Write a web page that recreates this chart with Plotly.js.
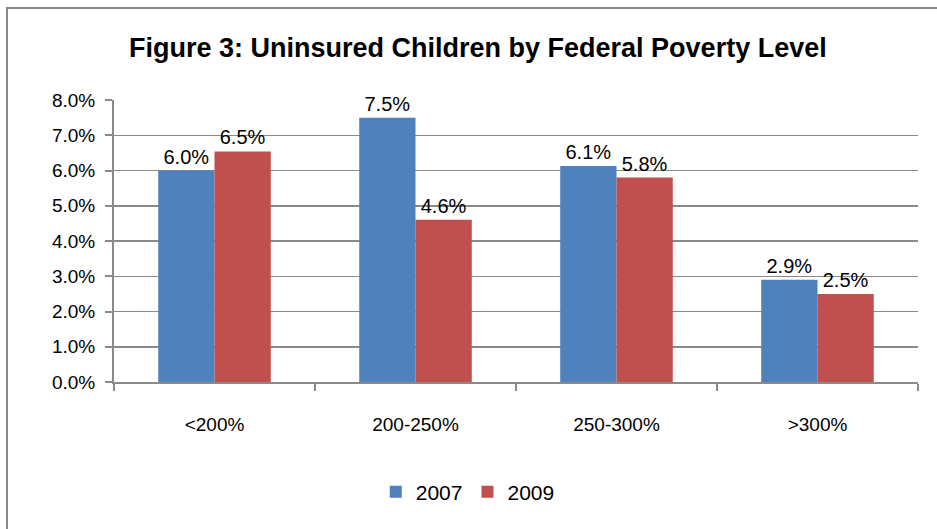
<!DOCTYPE html>
<html>
<head>
<meta charset="utf-8">
<script src="https://cdn.plot.ly/plotly-3.0.1.min.js"></script>
<style>
html,body{margin:0;padding:0;background:#fff;}
#wrap{position:relative;width:937px;height:529px;overflow:hidden;}
#frame{position:absolute;left:6px;top:7px;width:1000px;height:600px;border-top:2px solid #8a8a8a;border-left:2px solid #8a8a8a;}
#chart{position:absolute;left:0;top:0;width:937px;height:529px;}
</style>
</head>
<body>
<div id="wrap"><div id="frame"></div><div id="chart"></div></div>
<script>
var categories = ['<200%', '200-250%', '250-300%', '>300%'];
var series2007 = [6.0, 7.5, 6.13, 2.9];
var series2009 = [6.54, 4.6, 5.8, 2.5];
var yTickVals = [0, 1, 2, 3, 4, 5, 6, 7, 8];
var yTickText = ['0.0%', '1.0%', '2.0%', '3.0%', '4.0%', '5.0%', '6.0%', '7.0%', '8.0%'];

var font = 'Liberation Sans, Arial, sans-serif';
var traces = [
  {type:'bar', name:'2007', x:categories, y:series2007, marker:{color:'#4F81BD'},
   texttemplate:'%{y:.1f}%', textposition:'outside', cliponaxis:false,
   textfont:{family:font, size:20, color:'#000'}},
  {type:'bar', name:'2009', x:categories, y:series2009, marker:{color:'#C0504D'},
   texttemplate:'%{y:.1f}%', textposition:'outside', cliponaxis:false,
   textfont:{family:font, size:20, color:'#000'}}
];
var layout = {
  width:937, height:529,
  paper_bgcolor:'rgba(0,0,0,0)', plot_bgcolor:'rgba(0,0,0,0)',
  margin:{l:114, r:19, t:100, b:147},
  font:{family:font, size:19, color:'#000'},
  title:{text:'<b>Figure 3: Uninsured Children by Federal Poverty Level</b>', x:0.51, xanchor:'center', y:0.91, yanchor:'middle',
         font:{family:font, size:27, color:'#000'}},
  barmode:'group', bargap:0.44, bargroupgap:0,
  xaxis:{showline:true, linecolor:'#8a8a8a', linewidth:2, ticks:'outside', tickson:'boundaries', ticklen:7, tickcolor:'#8a8a8a', tickwidth:2,
         showgrid:false, ticklabelstandoff:24, tickfont:{family:font, size:19, color:'#000'}},
  yaxis:{range:[0,8], tickvals:yTickVals, ticktext:yTickText, showline:true, linecolor:'#8a8a8a', linewidth:2,
         ticks:'outside', ticklen:7, tickcolor:'#8a8a8a', tickwidth:2, showgrid:true, gridcolor:'#8a8a8a', gridwidth:1.5,
         zeroline:false, ticklabelstandoff:6, tickfont:{family:font, size:19, color:'#000'}},
  showlegend:true,
  legend:{orientation:'h', x:0.44, xanchor:'center', y:-0.39, yanchor:'middle', font:{family:font, size:21, color:'#000'}, itemwidth:30, traceorder:'normal'}
};
Plotly.newPlot('chart', traces, layout, {displayModeBar:false, staticPlot:true});
</script>
</body>
</html>
